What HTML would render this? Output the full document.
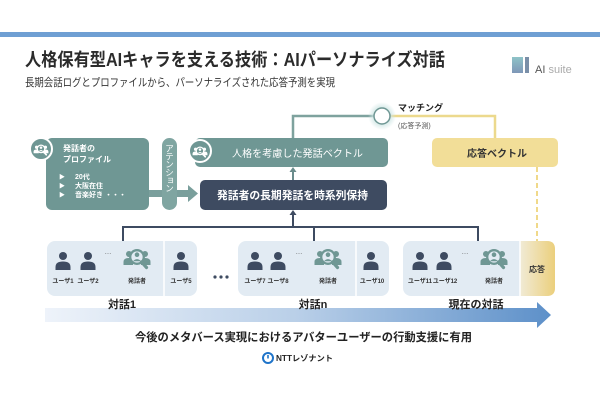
<!DOCTYPE html>
<html><head><meta charset="utf-8">
<style>
html,body{margin:0;padding:0;background:#fff;}
svg{display:block;}
text{font-family:"Liberation Sans","Noto Sans CJK JP",sans-serif;}
</style></head>
<body>
<svg width="600" height="400" viewBox="0 0 600 400" xmlns="http://www.w3.org/2000/svg">
<defs>
  <linearGradient id="bigArrow" x1="0" y1="0" x2="1" y2="0">
    <stop offset="0" stop-color="#eef3fa"/>
    <stop offset="0.5" stop-color="#b9cfe8"/>
    <stop offset="1" stop-color="#5d90c9"/>
  </linearGradient>
  <linearGradient id="resp" x1="0" y1="0" x2="1" y2="0">
    <stop offset="0" stop-color="#f1ebd6"/>
    <stop offset="1" stop-color="#ebcf7c"/>
  </linearGradient>
  <linearGradient id="logo1" x1="0" y1="0" x2="0" y2="1">
    <stop offset="0" stop-color="#8fc3c8"/>
    <stop offset="1" stop-color="#7f97b8"/>
  </linearGradient>
  <linearGradient id="match" x1="0" y1="0" x2="1" y2="0">
    <stop offset="0" stop-color="#8fb0aa"/>
    <stop offset="1" stop-color="#ecd98d"/>
  </linearGradient>
  <radialGradient id="glow">
    <stop offset="0.5" stop-color="#cfe6e4" stop-opacity="1"/>
    <stop offset="1" stop-color="#cfe6e4" stop-opacity="0"/>
  </radialGradient>
  <g id="u">
    <circle cx="0" cy="0" r="4" fill="#3e4b61"/>
    <path d="M-7.5,14 L-7.5,11 Q-7.5,5.5 0,5.5 Q7.5,5.5 7.5,11 L7.5,14 Z" fill="#3e4b61"/>
  </g>
  <g id="sp">
    <circle cx="-8" cy="-5" r="3" fill="#6f9794"/>
    <path d="M-13.5,6 L-13.5,3 Q-13.5,-1 -8,-1 Q-4,-1 -4,3 L-4,6 Z" fill="#6f9794"/>
    <circle cx="8" cy="-5" r="3" fill="#6f9794"/>
    <path d="M13.5,6 L13.5,3 Q13.5,-1 8,-1 Q4,-1 4,3 L4,6 Z" fill="#6f9794"/>
    <circle cx="0" cy="-2" r="6.8" fill="#e2ebf3" stroke="#6f9794" stroke-width="2.3"/>
    <circle cx="0" cy="-4.3" r="2.3" fill="#6f9794"/>
    <path d="M-4,2.2 Q0,-2 4,2.2 Z" fill="#6f9794"/>
    <line x1="4.6" y1="3" x2="9.5" y2="8.5" stroke="#6f9794" stroke-width="3.2" stroke-linecap="round"/>
  </g>
  <g id="spw">
    <circle cx="-8" cy="-5" r="3" fill="#fff"/>
    <path d="M-13.5,6 L-13.5,3 Q-13.5,-1 -8,-1 Q-4,-1 -4,3 L-4,6 Z" fill="#fff"/>
    <circle cx="8" cy="-5" r="3" fill="#fff"/>
    <path d="M13.5,6 L13.5,3 Q13.5,-1 8,-1 Q4,-1 4,3 L4,6 Z" fill="#fff"/>
    <circle cx="0" cy="-2" r="6.8" fill="#6f9794" stroke="#fff" stroke-width="2.3"/>
    <circle cx="0" cy="-4.3" r="2.3" fill="#fff"/>
    <path d="M-4,2.2 Q0,-2 4,2.2 Z" fill="#fff"/>
    <line x1="4.6" y1="3" x2="9.5" y2="8.5" stroke="#fff" stroke-width="3.2" stroke-linecap="round"/>
  </g>
</defs>

<!-- top bar -->
<rect x="0" y="32" width="600" height="5" fill="#6f9fd3"/>

<!-- title -->
<text x="25" y="66" font-size="18" font-weight="bold" fill="#2b2b2b" textLength="420" lengthAdjust="spacingAndGlyphs">人格保有型AIキャラを支える技術：AIパーソナライズ対話</text>
<text x="25" y="86" font-size="11" fill="#333" textLength="310" lengthAdjust="spacingAndGlyphs">長期会話ログとプロファイルから、パーソナライズされた応答予測を実現</text>

<!-- AI suite logo -->
<rect x="512" y="57" width="11" height="16" fill="url(#logo1)"/>
<rect x="525" y="57" width="4" height="16" fill="#7a8fa8"/>
<text x="535" y="73" font-size="11" fill="#555">AI <tspan fill="#aaa">suite</tspan></text>

<!-- top connector (matching) -->
<polyline points="293,138 293,116 376,116" fill="none" stroke="#7ea29e" stroke-width="2.5"/>
<polyline points="388,116 495,116 495,138" fill="none" stroke="#ecd98d" stroke-width="2.5"/>
<circle cx="382" cy="116" r="14" fill="url(#glow)"/>
<circle cx="382" cy="116" r="8" fill="#fff" stroke="#6f9794" stroke-width="1.5"/>
<text x="398" y="111" font-size="9" font-weight="bold" fill="#222">マッチング</text>
<text x="398" y="128" font-size="7" fill="#555">(応答予測)</text>

<!-- profile arrow -->
<polygon points="148,190 188,190 188,185 198,193.5 188,202 188,197 148,197" fill="#7a9f9c"/>

<!-- profile box -->
<rect x="46" y="138" width="103" height="72" rx="6" fill="#6f9794"/>
<circle cx="41" cy="149" r="11" fill="#6f9794" stroke="#fff" stroke-width="2"/>
<g transform="translate(41,150) scale(0.55)"><use href="#spw"/></g>
<text x="63" y="151" font-size="8" font-weight="bold" fill="#fff">発話者の</text>
<text x="63" y="162" font-size="8" font-weight="bold" fill="#fff">プロファイル</text>
<text x="59" y="179" font-size="6" fill="#fff">▶</text>
<text x="75" y="179" font-size="7" font-weight="bold" fill="#fff">20代</text>
<text x="59" y="188" font-size="6" fill="#fff">▶</text>
<text x="75" y="188" font-size="7" font-weight="bold" fill="#fff">大阪在住</text>
<text x="59" y="197" font-size="6" fill="#fff">▶</text>
<text x="75" y="197" font-size="7" font-weight="bold" fill="#fff">音楽好き ・・・</text>

<!-- attention pill -->
<rect x="162" y="138" width="15" height="72" rx="7.5" fill="#7fa5a1"/>
<g font-size="8.5" fill="#fff" text-anchor="middle">
  <text x="169.5" y="151.5">ア</text>
  <text x="169.5" y="159.5">テ</text>
  <text x="169.5" y="167.5">ン</text>
  <text x="169.5" y="175.5">シ</text>
  <text x="170.5" y="182.5">ョ</text>
  <text x="169.5" y="191.5">ン</text>
</g>

<!-- person vector box -->
<rect x="195" y="138" width="193" height="29" rx="5" fill="#6f9794"/>
<circle cx="200" cy="151" r="11" fill="#6f9794" stroke="#fff" stroke-width="2"/>
<g transform="translate(200,152) scale(0.55)"><use href="#spw"/></g>
<text x="232" y="157" font-size="10" fill="#fff" textLength="131" lengthAdjust="spacingAndGlyphs">人格を考慮した発話ベクトル</text>

<!-- arrow dark -> person -->
<line x1="293" y1="180" x2="293" y2="171" stroke="#6a8c8c" stroke-width="2"/>
<polygon points="289.5,172 293,167 296.5,172" fill="#6a8c8c"/>

<!-- dark box -->
<rect x="200" y="180" width="187" height="30" rx="5" fill="#3e4b61"/>
<text x="217" y="199" font-size="11" font-weight="bold" fill="#fff" textLength="151" lengthAdjust="spacingAndGlyphs">発話者の長期発話を時系列保持</text>

<!-- arrow bracket -> dark -->
<line x1="293" y1="227" x2="293" y2="214" stroke="#3e4b61" stroke-width="2"/>
<polygon points="289.5,215 293,210 296.5,215" fill="#3e4b61"/>

<!-- yellow box -->
<rect x="432" y="138" width="126" height="29" rx="5" fill="#f2de98"/>
<text x="497" y="157" font-size="10" font-weight="bold" fill="#333" text-anchor="middle">応答ベクトル</text>
<line x1="537" y1="167" x2="537" y2="241" stroke="#f0d98a" stroke-width="2" stroke-dasharray="5,3"/>

<!-- bracket -->
<polyline points="123,241 123,227 478,227 478,241" fill="none" stroke="#3e4b61" stroke-width="2"/>
<line x1="314" y1="227" x2="314" y2="241" stroke="#3e4b61" stroke-width="2"/>

<!-- timeline boxes -->
<rect x="47" y="241" width="150" height="55" rx="8" fill="#e2ebf3"/>
<line x1="164" y1="241" x2="164" y2="296" stroke="#fff" stroke-width="1.5"/>
<rect x="238" y="241" width="151" height="55" rx="8" fill="#e2ebf3"/>
<line x1="356" y1="241" x2="356" y2="296" stroke="#fff" stroke-width="1.5"/>
<rect x="403" y="241" width="152" height="55" rx="8" fill="#e2ebf3"/>
<path d="M520,241 L547,241 Q555,241 555,249 L555,288 Q555,296 547,296 L520,296 Z" fill="url(#resp)"/>
<line x1="520" y1="241" x2="520" y2="296" stroke="#fff" stroke-width="1.5"/>

<!-- dots between -->
<circle cx="215" cy="277" r="1.6" fill="#3e4b61"/>
<circle cx="221" cy="277" r="1.6" fill="#3e4b61"/>
<circle cx="227" cy="277" r="1.6" fill="#3e4b61"/>

<!-- users box1 -->
<use href="#u" x="63" y="256"/>
<use href="#u" x="88" y="256"/>
<text x="108" y="254" font-size="7" fill="#555" text-anchor="middle">…</text>
<g transform="translate(137,259)"><use href="#sp"/></g>
<use href="#u" x="181" y="256"/>
<!-- users box2 -->
<use href="#u" x="255" y="256"/>
<use href="#u" x="278" y="256"/>
<text x="299" y="254" font-size="7" fill="#555" text-anchor="middle">…</text>
<g transform="translate(328,259)"><use href="#sp"/></g>
<use href="#u" x="371" y="256"/>
<!-- users box3 -->
<use href="#u" x="420" y="256"/>
<use href="#u" x="444" y="256"/>
<text x="465" y="254" font-size="7" fill="#555" text-anchor="middle">…</text>
<g transform="translate(494,259)"><use href="#sp"/></g>
<text x="537" y="272" font-size="8" font-weight="bold" fill="#333" text-anchor="middle">応答</text>

<!-- user labels -->
<g font-size="6" font-weight="bold" fill="#333" text-anchor="middle">
  <text x="63" y="283">ユーザ1</text>
  <text x="88" y="283">ユーザ2</text>
  <text x="137" y="283">発話者</text>
  <text x="181" y="283">ユーザ5</text>
  <text x="255" y="283">ユーザ7</text>
  <text x="278" y="283">ユーザ8</text>
  <text x="328" y="283">発話者</text>
  <text x="372" y="283">ユーザ10</text>
  <text x="420" y="283">ユーザ11</text>
  <text x="445" y="283">ユーザ12</text>
  <text x="494" y="283">発話者</text>
</g>

<!-- big arrow -->
<polygon points="45,308 537,308 537,302 551,315 537,328 537,322 45,322" fill="url(#bigArrow)"/>
<g font-size="11" font-weight="bold" fill="#222" text-anchor="middle">
  <text x="122" y="308">対話1</text>
  <text x="313" y="308">対話n</text>
  <text x="476" y="308">現在の対話</text>
</g>

<!-- bottom text -->
<text x="135" y="341" font-size="11.5" font-weight="bold" fill="#222" textLength="337" lengthAdjust="spacingAndGlyphs">今後のメタバース実現におけるアバターユーザーの行動支援に有用</text>

<!-- NTT logo -->
<circle cx="268" cy="358" r="5" fill="none" stroke="#1f74c9" stroke-width="2"/>
<line x1="268" y1="355" x2="268" y2="358.5" stroke="#1f74c9" stroke-width="1.6"/>
<text x="276" y="361" font-size="8" font-weight="bold" fill="#222" textLength="57" lengthAdjust="spacingAndGlyphs">NTTレゾナント</text>
</svg>
</body></html>
